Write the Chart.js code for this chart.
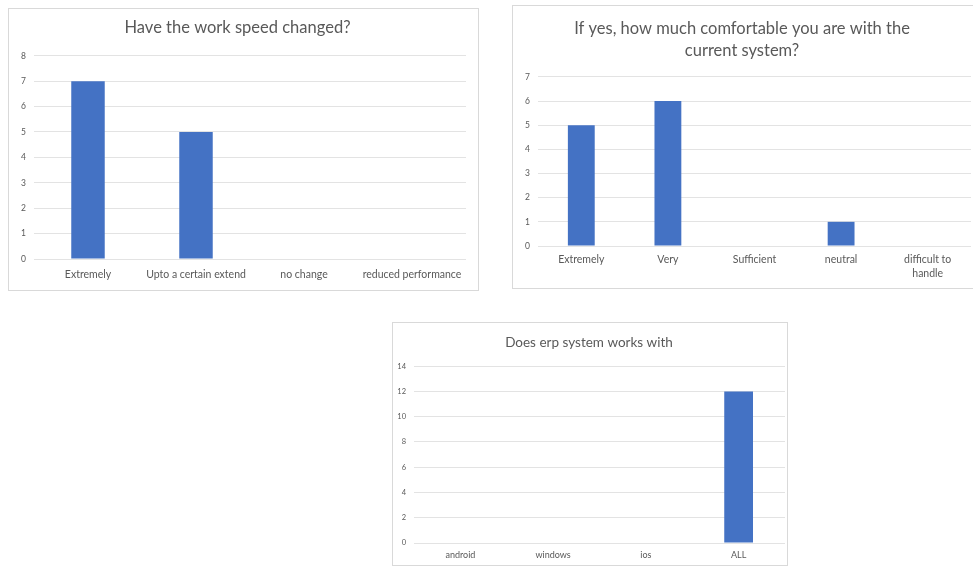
<!DOCTYPE html>
<html>
<head>
<meta charset="utf-8">
<script src="https://cdn.jsdelivr.net/npm/chart.js@4/dist/chart.umd.min.js"></script>
<style>
  html, body { margin: 0; padding: 0; background: #fff; }
  body { width: 973px; height: 572px; position: relative; overflow: hidden; }
  .panel { position: absolute; border: 1px solid #d9d9d9; background: #fff; box-sizing: border-box; }
  .panel canvas { display: block; }
</style>
</head>
<body>
<div class="panel" id="p1" style="left:8px; top:8px; width:471px; height:283px;"><canvas id="c1"></canvas></div>
<div class="panel" id="p2" style="left:512px; top:5px; width:464px; height:284px;"><canvas id="c2"></canvas></div>
<div class="panel" id="p3" style="left:392px; top:322px; width:396px; height:244px;"><canvas id="c3"></canvas></div>
<script>
// Survey answers: work speed
const speedTitle = 'Have the work speed changed?';
const speedCategories = ['Extremely', 'Upto a certain extend', 'no change', 'reduced performance'];
const speedCounts = [7, 5, 0, 0];

// Survey answers: comfort with the current system
const comfortTitle = ['If yes, how much comfortable you are with the', 'current system?'];
const comfortCategories = ['Extremely', 'Very', 'Sufficient', 'neutral', ['difficult to', 'handle']];
const comfortCounts = [5, 6, 0, 1, 0];

// Survey answers: platforms
const platformTitle = 'Does erp system works with';
const platformCategories = ['android', 'windows', 'ios', 'ALL'];
const platformCounts = [0, 0, 0, 12];

const BAR = '#4472C4';
const TEXT = '#595959';
const GRID = '#e3e3e3';
const FONT = 'Lato, "Open Sans", sans-serif';

function makeChart(id, w, h, o) {
  const cv = document.getElementById(id);
  cv.width = w; cv.height = h;
  cv.style.width = w + 'px'; cv.style.height = h + 'px';
  return new Chart(cv, {
    type: 'bar',
    data: {
      labels: o.labels,
      datasets: [{ data: o.values, backgroundColor: BAR, barPercentage: 1, categoryPercentage: 0.31 }]
    },
    options: {
      responsive: false,
      animation: false,
      devicePixelRatio: 1,
      layout: { padding: o.padding },
      plugins: {
        legend: { display: false },
        tooltip: { enabled: false },
        title: {
          display: true,
          text: o.title,
          color: TEXT,
          font: { family: FONT, size: o.titleSize, weight: 'normal', lineHeight: o.titleLH },
          padding: o.titlePad
        }
      },
      scales: {
        x: {
          grid: { display: false, drawTicks: false },
          border: { display: false },
          ticks: { color: TEXT, font: { family: FONT, size: o.xSize, lineHeight: 1.3 }, padding: o.xPad, maxRotation: 0, autoSkip: false },
          afterFit: s => { s.height = o.xHeight; }
        },
        y: {
          min: 0, max: o.max,
          grid: { color: GRID, drawTicks: false },
          border: { display: false },
          ticks: { stepSize: o.step, color: TEXT, font: { family: FONT, size: o.ySize }, padding: 8 },
          afterFit: s => { s.width = o.yWidth; }
        }
      }
    }
  });
}

makeChart('c1', 469, 281, {
  labels: speedCategories, values: speedCounts, max: 8, step: 1,
  title: speedTitle, titleSize: 16.5, titleLH: 1.2, titlePad: { top: 9, bottom: 18 },
  xSize: 10.5, ySize: 8.5, xPad: 9, xHeight: 31, yWidth: 25,
  padding: { left: 0, right: 12, top: 0, bottom: 0 }
});

makeChart('c2', 462, 282, {
  labels: comfortCategories, values: comfortCounts, max: 7, step: 1,
  title: comfortTitle, titleSize: 16.5, titleLH: 1.33, titlePad: { top: 12, bottom: 15 },
  xSize: 10.5, ySize: 8.5, xPad: 7, xHeight: 42, yWidth: 25,
  padding: { left: 0, right: 4, top: 0, bottom: 0 }
});

makeChart('c3', 394, 242, {
  labels: platformCategories, values: platformCounts, max: 14, step: 2,
  title: platformTitle, titleSize: 13.5, titleLH: 1.2, titlePad: { top: 12, bottom: 15 },
  xSize: 9, ySize: 7.5, xPad: 6, xHeight: 22, yWidth: 21,
  padding: { left: 0, right: 2, top: 0, bottom: 0 }
});
</script>
</body>
</html>
